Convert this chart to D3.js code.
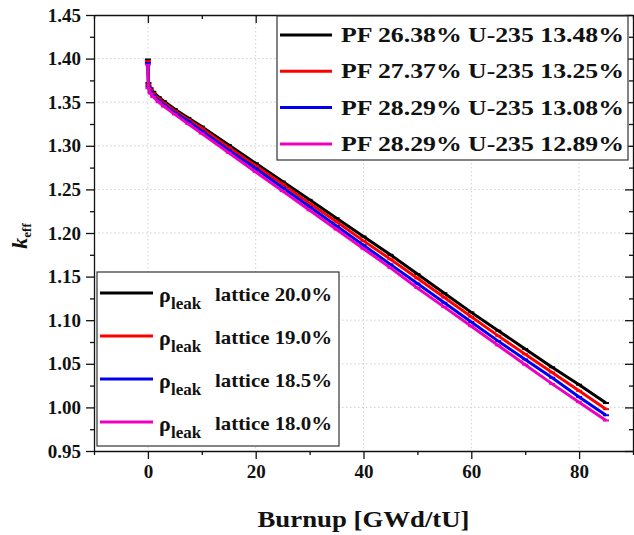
<!DOCTYPE html>
<html><head><meta charset="utf-8">
<script src="https://cdn.jsdelivr.net/npm/d3@7"></script>
<style>
body{margin:0;background:#fff;}
svg text{font-family:"Liberation Serif","DejaVu Serif",serif;font-weight:bold;fill:#111;}
</style></head>
<body><svg id="c" width="634" height="535"></svg>
<script>
const burnup = [0, 0.1, 0.5, 1, 2, 3, 5, 7.5, 10, 15, 20, 25, 30, 35, 40, 45, 50, 55, 60, 65, 70, 75, 80, 85];
const keffBlack   = [1.399,1.372,1.366,1.362,1.356,1.351,1.342,1.332,1.322,1.301,1.280,1.259,1.238,1.217,1.196,1.175,1.153,1.131,1.109,1.088,1.067,1.046,1.026,1.005];
const keffRed     = [1.397,1.370,1.364,1.360,1.354,1.349,1.340,1.330,1.320,1.298,1.277,1.256,1.234,1.213,1.191,1.170,1.148,1.126,1.104,1.082,1.061,1.040,1.019,0.998];
const keffBlue    = [1.395,1.368,1.362,1.358,1.352,1.347,1.338,1.328,1.317,1.295,1.274,1.252,1.230,1.208,1.186,1.164,1.142,1.120,1.098,1.076,1.055,1.034,1.012,0.991];
const keffMagenta = [1.393,1.366,1.360,1.356,1.350,1.345,1.336,1.325,1.314,1.292,1.270,1.248,1.226,1.204,1.182,1.160,1.137,1.115,1.093,1.071,1.049,1.027,1.006,0.985];
const seriesColors = ["#000000", "#ff0000", "#0000ee", "#ee00c0"];
const legendPF = ["PF 26.38% U-235 13.48%", "PF 27.37% U-235 13.25%", "PF 28.29% U-235 13.08%", "PF 28.29% U-235 12.89%"];
const legendLeak = ["lattice 20.0%", "lattice 19.0%", "lattice 18.5%", "lattice 18.0%"];
const xMajorTicks = [0, 20, 40, 60, 80];
const xMinorTicks = [-10, 10, 30, 50, 70, 90];
const yMajorTicks = [0.95, 1.00, 1.05, 1.10, 1.15, 1.20, 1.25, 1.30, 1.35, 1.40, 1.45];
const yMinorTicks = [0.975, 1.025, 1.075, 1.125, 1.175, 1.225, 1.275, 1.325, 1.375, 1.425];

const series = [keffBlack, keffRed, keffBlue, keffMagenta];

const svg = d3.select("#c");
const L = 94, R = 633, T = 15, B = 451;
const x = d3.scaleLinear().domain([-10, 90]).range([L, R]);
const y = d3.scaleLinear().domain([0.95, 1.45]).range([B, T]);
const FONT = "Liberation Serif";

// grid
const grid = svg.append("g").attr("stroke", "#cfcfcf").attr("stroke-width", 1).attr("stroke-dasharray", "1.5,2.5");
grid.selectAll(".gx").data(xMajorTicks).join("line").attr("x1", d => x(d)).attr("x2", d => x(d)).attr("y1", T).attr("y2", B);
grid.selectAll(".gy").data(yMajorTicks.slice(1, -1)).join("line").attr("y1", d => y(d)).attr("y2", d => y(d)).attr("x1", L).attr("x2", R);

// series
const line = d3.line().x((d, i) => x(burnup[i])).y(d => y(d));
series.forEach((s, k) => {
  svg.append("path").datum(s).attr("fill", "none").attr("stroke", seriesColors[k])
    .attr("stroke-width", 3).attr("stroke-linejoin", "round").attr("d", line);
  svg.append("g").selectAll("line").data(s).join("line")
    .attr("x1", (d, i) => x(burnup[i]) - 3).attr("x2", (d, i) => x(burnup[i]) + 3)
    .attr("y1", d => y(d)).attr("y2", d => y(d))
    .attr("stroke", seriesColors[k]).attr("stroke-width", 2);
});

// axes
function styleAxis(g) { g.selectAll("path,line").attr("stroke", "#111").attr("stroke-width", 1.3); }
function styleText(g) { g.selectAll("text").attr("font-size", 19).attr("font-family", FONT).attr("font-weight", "bold").attr("fill", "#111"); }
const fmt = d3.format(".2f");
svg.append("g").attr("transform", `translate(0,${B})`)
  .call(d3.axisBottom(x).tickValues(xMajorTicks).tickSize(8).tickPadding(6).tickSizeOuter(0).tickFormat(d3.format("d")))
  .call(styleAxis).call(styleText);
svg.append("g").attr("transform", `translate(0,${B})`)
  .call(d3.axisBottom(x).tickValues(xMinorTicks).tickSize(4).tickSizeOuter(0).tickFormat(""))
  .call(styleAxis).call(g => g.select(".domain").remove());
svg.append("g").attr("transform", `translate(${L},0)`)
  .call(d3.axisLeft(y).tickValues(yMajorTicks).tickSize(8).tickPadding(5).tickSizeOuter(0).tickFormat(fmt))
  .call(styleAxis).call(styleText);
svg.append("g").attr("transform", `translate(${L},0)`)
  .call(d3.axisLeft(y).tickValues(yMinorTicks).tickSize(4).tickSizeOuter(0).tickFormat(""))
  .call(styleAxis).call(g => g.select(".domain").remove());
// top and right mirror axes, ticks inward
svg.append("g").attr("transform", `translate(0,${T})`)
  .call(d3.axisBottom(x).tickValues(xMajorTicks).tickSize(8).tickSizeOuter(0).tickFormat(""))
  .call(styleAxis);
svg.append("g").attr("transform", `translate(0,${T})`)
  .call(d3.axisBottom(x).tickValues(xMinorTicks).tickSize(4).tickSizeOuter(0).tickFormat(""))
  .call(styleAxis).call(g => g.select(".domain").remove());
svg.append("g").attr("transform", `translate(${R},0)`)
  .call(d3.axisLeft(y).tickValues(yMajorTicks).tickSizeInner(8).tickSizeOuter(0).tickFormat(""))
  .call(styleAxis);
svg.append("g").attr("transform", `translate(${R},0)`)
  .call(d3.axisLeft(y).tickValues(yMinorTicks).tickSize(4).tickSizeOuter(0).tickFormat(""))
  .call(styleAxis).call(g => g.select(".domain").remove());

// axis labels
svg.append("text").attr("x", (L + R) / 2).attr("y", 527).attr("text-anchor", "middle")
  .attr("font-size", 23).attr("textLength", 212).attr("lengthAdjust", "spacingAndGlyphs").text("Burnup [GWd/tU]");
const yl = svg.append("text").attr("transform", "translate(27,236) rotate(-90)").attr("text-anchor", "middle");
yl.append("tspan").attr("font-style", "italic").attr("font-size", 22).text("k");
yl.append("tspan").attr("font-size", 13).attr("dy", 4).text("eff");

// legend 1
const lg1 = svg.append("g");
lg1.append("rect").attr("x", 277).attr("y", 16).attr("width", 351).attr("height", 144)
  .attr("fill", "#fff").attr("stroke", "#333").attr("stroke-width", 1.2);
legendPF.forEach((t, i) => {
  const yy = 35 + i * 36.3;
  lg1.append("line").attr("x1", 280).attr("x2", 332).attr("y1", yy).attr("y2", yy)
    .attr("stroke", seriesColors[i]).attr("stroke-width", 3);
  lg1.append("text").attr("x", 341).attr("y", yy + 7).attr("font-size", 21)
    .attr("textLength", 283).attr("lengthAdjust", "spacingAndGlyphs").text(t);
});

// legend 2
const lg2 = svg.append("g");
lg2.append("rect").attr("x", 97).attr("y", 272).attr("width", 242).attr("height", 174)
  .attr("fill", "#fff").attr("stroke", "#333").attr("stroke-width", 1.2);
legendLeak.forEach((t, i) => {
  const yy = 293 + i * 43;
  lg2.append("line").attr("x1", 100).attr("x2", 153).attr("y1", yy).attr("y2", yy)
    .attr("stroke", seriesColors[i]).attr("stroke-width", 3);
  lg2.append("text").attr("x", 159).attr("y", yy + 9).attr("font-size", 22).attr("font-weight", "normal").text("ρ");
  lg2.append("text").attr("x", 171).attr("y", yy + 16).attr("font-size", 17).text("leak");
  lg2.append("text").attr("x", 215).attr("y", yy + 8).attr("font-size", 19)
    .attr("textLength", 117).attr("lengthAdjust", "spacingAndGlyphs").text(t);
});
</script></body></html>
